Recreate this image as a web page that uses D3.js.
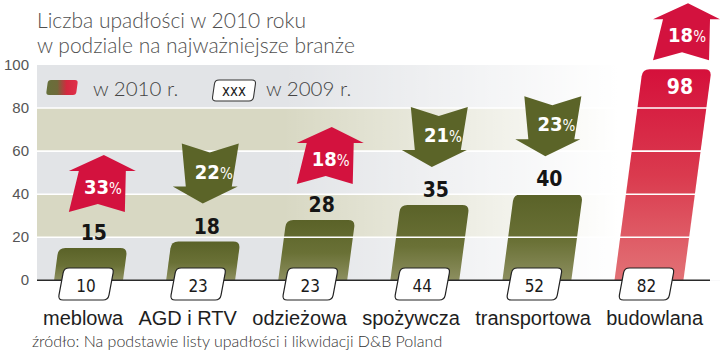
<!DOCTYPE html>
<html><head><meta charset="utf-8">
<script src="https://cdn.jsdelivr.net/npm/d3@7"></script>
<style>html,body{margin:0;padding:0;background:#fff;}svg{display:block;}</style>
</head><body>
<script>
const categories = ["meblowa", "AGD i RTV", "odzieżowa", "spożywcza", "transportowa", "budowlana"];
const values2010 = [15, 18, 28, 35, 40, 98];
const values2009 = [10, 23, 23, 44, 52, 82];
const changePct = [33, 22, 18, 21, 23, 18];
const changeDir = ["up", "down", "up", "down", "down", "up"];
const yTicks = [0, 20, 40, 60, 80, 100];
const titleLines = ["Liczba upadłości w 2010 roku", "w podziale na najważniejsze branże"];
const legendLabels = ["w 2010 r.", "w 2009 r."];
const sourceText = "źródło: Na podstawie listy upadłości i likwidacji D&B Poland";

const W = 720, H = 355;
const svg = d3.select("body").append("svg").attr("width", W).attr("height", H);
const defs = svg.append("defs");

const x = d3.scaleBand().domain(categories).range([32.5, 705]).paddingInner(0.385).paddingOuter(0.1925);
const y = d3.scaleLinear().domain([0, 100]).range([280.3, 65]);
const plotLeft = 37, plotRight = 720;
const K = 0.133; // bar slant

const OLIVE = "#5b6428", RED = "#d3123e";
const maxVal = d3.max(values2010);

function lg(id, x1, y1, x2, y2, stops) {
  const g = defs.append("linearGradient").attr("id", id)
    .attr("x1", x1).attr("y1", y1).attr("x2", x2).attr("y2", y2);
  stops.forEach(s => g.append("stop").attr("offset", s[0]).attr("stop-color", s[1]).attr("stop-opacity", s[2] == null ? 1 : s[2]));
}
lg("gOlive", 0, 0, 0, 1, [[0, "#5a6228"], [0.55, "#6a7136"], [1, "#8d8f60"]]);
lg("gRed", 0, 0, 0, 1, [[0, "#d5103b"], [0.5, "#da3a4e"], [1, "#e27276"]]);
lg("gFade", 0, 0, 1, 0, [[0, "#fff", 0], [0.36, "#fff", 0], [0.85, "#fff", 1], [1, "#fff", 1]]);
lg("gLegend", 0, 0, 1, 0, [[0, "#66703a"], [0.35, "#6f6a3a"], [0.65, "#d4283f"], [1, "#e0304a"]]);

function roundedPoly(pts, r) {
  const p = d3.path();
  const n = pts.length;
  for (let i = 0; i < n; i++) {
    const prev = pts[(i - 1 + n) % n], cur = pts[i], next = pts[(i + 1) % n];
    const rr = Array.isArray(r) ? r[i] : r;
    const d1 = Math.hypot(cur[0] - prev[0], cur[1] - prev[1]);
    const d2 = Math.hypot(next[0] - cur[0], next[1] - cur[1]);
    const a = [cur[0] + (prev[0] - cur[0]) * Math.min(rr / d1, 0.5), cur[1] + (prev[1] - cur[1]) * Math.min(rr / d1, 0.5)];
    const b = [cur[0] + (next[0] - cur[0]) * Math.min(rr / d2, 0.5), cur[1] + (next[1] - cur[1]) * Math.min(rr / d2, 0.5)];
    if (i === 0) p.moveTo(a[0], a[1]); else p.lineTo(a[0], a[1]);
    p.quadraticCurveTo(cur[0], cur[1], b[0], b[1]);
  }
  p.closePath();
  return p.toString();
}

// ---- title
const title = svg.append("g").attr("font-family", "Lato, 'Liberation Sans', sans-serif")
  .attr("font-weight", 300).attr("font-size", 21).attr("fill", "#505050");
titleLines.forEach((t, i) => title.append("text").attr("x", 37).attr("y", 28 + i * 25).text(t));

// ---- background bands
const bandG = svg.append("g");
for (let i = 0; i < yTicks.length - 1; i++) {
  bandG.append("rect").attr("x", plotLeft).attr("width", plotRight - plotLeft)
    .attr("y", y(yTicks[i + 1])).attr("height", y(yTicks[i]) - y(yTicks[i + 1]))
    .attr("fill", i % 2 === 0 ? "#e2e4e7" : "#d8d8c3");
}
bandG.append("rect").attr("x", plotLeft).attr("width", plotRight - plotLeft)
  .attr("y", y(100)).attr("height", y(0) - y(100)).attr("fill", "url(#gFade)");

// ---- y tick labels
svg.append("g").selectAll("text").data(yTicks).join("text")
  .attr("x", 29).attr("y", d => y(d) + 5).attr("text-anchor", "end")
  .attr("font-family", "'Liberation Sans', Arial, sans-serif").attr("font-size", 15).attr("fill", "#555")
  .text(d => d);

// ---- legend
const lgd = svg.append("g");
lgd.append("path").attr("d", roundedPoly([[46, 95], [48, 80], [78, 80], [76, 95]], 3)).attr("fill", "url(#gLegend)");
lgd.append("text").attr("x", 93).attr("y", 96).attr("font-family", "Lato, sans-serif").attr("font-weight", 300)
  .attr("font-size", 20.5).attr("fill", "#444").text(legendLabels[0]);
lgd.append("path").attr("d", roundedPoly([[212, 101], [215, 80], [256, 80], [253, 101]], 4))
  .attr("fill", "#fff").attr("stroke", "#333").attr("stroke-width", 1.1);
lgd.append("text").attr("x", 234).attr("y", 96).attr("text-anchor", "middle")
  .attr("font-family", "'DejaVu Sans Condensed', sans-serif").attr("font-size", 15).attr("fill", "#222").text("xxx");
lgd.append("text").attr("x", 266).attr("y", 96).attr("font-family", "Lato, sans-serif").attr("font-weight", 300)
  .attr("font-size", 20.5).attr("fill", "#444").text(legendLabels[1]);

// ---- bars
const data = categories.map((c, i) => ({
  cat: c, v: values2010[i], v09: values2009[i], pct: changePct[i], dir: changeDir[i], hi: values2010[i] === maxVal
}));
data.forEach(d => {
  d.x0 = x(d.cat); d.w = x.bandwidth();
  d.yb = y(0); d.yt = y(d.v);
  d.shift = K * (d.yb - d.yt);
  d.topCx = d.x0 + d.w / 2 + d.shift;
  d.botCx = d.x0 + d.w / 2;
});
svg.append("g").selectAll("path").data(data).join("path")
  .attr("d", d => roundedPoly([[d.x0, d.yb], [d.x0 + d.shift, d.yt], [d.x0 + d.w + d.shift, d.yt], [d.x0 + d.w, d.yb]], [0, 7, 7, 0]))
  .attr("fill", d => d.hi ? "url(#gRed)" : "url(#gOlive)");

// ---- white gridlines over bars
svg.append("g").selectAll("line").data(yTicks.filter(t => t > 0 && t < 100)).join("line")
  .attr("x1", plotLeft).attr("x2", plotRight).attr("y1", d => y(d)).attr("y2", d => y(d))
  .attr("stroke", "#fff").attr("stroke-width", 1.6);

// ---- axis line
svg.append("line").attr("x1", plotLeft).attr("x2", 710).attr("y1", y(0)).attr("y2", y(0))
  .attr("stroke", "#2a2a2a").attr("stroke-width", 1.5);

// ---- value labels
const vl = svg.append("g").attr("font-family", "'DejaVu Sans Condensed', sans-serif").attr("font-weight", "bold")
  .attr("font-size", 21).attr("text-anchor", "middle");
data.forEach(d => {
  if (d.hi) {
    vl.append("text").attr("x", d.topCx + 3).attr("y", d.yt + 25).attr("fill", "#fff").text(d.v);
  } else {
    vl.append("text").attr("x", d.topCx + 1).attr("y", d.yt - 8).attr("fill", "#151515").text(d.v);
  }
});

// ---- arrows
const upShape = [[-28, 0], [1, -8], [28, 0], [29, -41], [39, -41], [7, -57], [-28, -41], [-18, -41]];
const downShape = [[-21, -60], [7, -51], [36, -60], [29, -17], [35, -17], [0, 0], [-30, -17], [-17, -17]];
const arG = svg.append("g");
data.forEach(d => {
  const isUp = d.dir === "up";
  const anchorY = d.hi ? d.yt - 9 : (isUp ? d.yt - 36 : d.yt - 38);
  const ax = isUp ? d.topCx + 4 : d.topCx - 3;
  const shape = isUp ? upShape : downShape;
  arG.append("path").attr("d", "M" + shape.map(p => [ax + p[0], anchorY + p[1]].join(",")).join("L") + "Z")
    .attr("fill", isUp ? RED : OLIVE);
  const t = arG.append("text").attr("x", ax + (isUp ? 6 : 11)).attr("y", anchorY + (isUp ? -18.5 : -25))
    .attr("text-anchor", "middle").attr("fill", "#fff");
  t.append("tspan").attr("font-family", "'DejaVu Sans Condensed', sans-serif").attr("font-weight", "bold")
    .attr("font-size", 20).text(d.pct);
  t.append("tspan").attr("font-family", "'DejaVu Sans Condensed', sans-serif").attr("font-size", 15).text("%");
});

// ---- 2009 boxes
const bx = svg.append("g");
data.forEach(d => {
  const cx = d.botCx - 2.5, t = 268, b = 300, hw = 25, s = 3;
  bx.append("path").attr("d", roundedPoly([[cx - hw - s, b], [cx - hw + s, t], [cx + hw + s, t], [cx + hw - s, b]], 5))
    .attr("fill", "#fff").attr("stroke", "#222").attr("stroke-width", 1.2);
  bx.append("text").attr("x", cx).attr("y", 291.5).attr("text-anchor", "middle")
    .attr("font-family", "'DejaVu Sans Condensed', sans-serif").attr("font-size", 17).attr("fill", "#1a1a1a")
    .text(d.v09);
});

// ---- category labels (justified across the width)
const catG = svg.append("g").attr("font-family", "'Liberation Sans', Arial, sans-serif").attr("font-size", 20).attr("fill", "#1e1e1e");
const catTexts = categories.map(c => catG.append("text").attr("y", 325).text(c));
const widths = catTexts.map(t => t.node().getComputedTextLength());
const spanL = 43, spanR = 703;
const gap = (spanR - spanL - d3.sum(widths)) / (categories.length - 1);
let cx = spanL;
catTexts.forEach((t, i) => { t.attr("x", cx); cx += widths[i] + gap; });

// ---- source
svg.append("text").attr("x", 32).attr("y", 347).attr("font-family", "Lato, 'Liberation Sans', sans-serif")
  .attr("font-weight", 300).attr("font-size", 16).attr("fill", "#333").text(sourceText);
</script>
</body></html>
